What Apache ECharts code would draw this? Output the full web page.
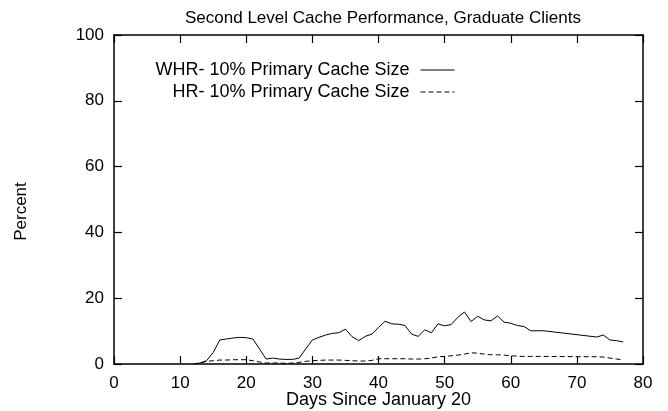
<!DOCTYPE html>
<html>
<head>
<meta charset="utf-8">
<script src="https://cdn.jsdelivr.net/npm/echarts@6/dist/echarts.min.js"></script>
<style>
  html, body { margin: 0; padding: 0; background: #fff; }
  #chart { width: 668px; height: 411px; }
</style>
</head>
<body>
<div id="chart"></div>
<script>
  // values (days since Jan 20 -> percent)
  const whrDays = [12, 13, 14, 15, 16, 17, 18, 19, 20, 21, 22, 23, 24, 25, 26, 27, 28, 29, 30, 31, 32, 33, 34, 35, 36, 37, 38, 39, 40, 41, 42, 43, 44, 45, 46, 47, 48, 49, 50, 51, 52, 53, 54, 55, 56, 57, 58, 59, 60, 61, 62, 63, 65, 73, 74, 75, 76, 77]
  const whrValues = [0, 0.3, 1.0, 3.5, 7.3, 7.6, 7.9, 8.1, 8.0, 7.6, 4.6, 1.5, 1.8, 1.5, 1.4, 1.4, 1.8, 4.6, 7.3, 8.1, 8.8, 9.3, 9.5, 10.6, 8.3, 7.1, 8.4, 9.1, 11.1, 13.0, 12.2, 12.1, 11.7, 9.1, 8.4, 10.4, 9.5, 12.2, 11.6, 12.0, 14.2, 15.8, 12.9, 14.5, 13.4, 13.1, 14.6, 12.7, 12.4, 11.7, 11.4, 10.1, 10.1, 8.2, 8.8, 7.3, 7.1, 6.7]
  const hrDays = [12, 13, 14, 15, 16, 17, 18, 19, 20, 21, 22, 23, 24, 25, 26, 27, 28, 29, 30, 31, 32, 33, 34, 35, 36, 37, 38, 39, 40, 41, 42, 43, 44, 45, 46, 47, 48, 49, 50, 51, 52, 53, 54, 55, 56, 57, 58, 59, 60, 61, 62, 63, 65, 73, 74, 75, 76, 77]
  const hrValues = [0, 0.3, 0.8, 1.0, 1.2, 1.2, 1.3, 1.3, 1.3, 1.0, 0.6, 0.3, 0.3, 0.3, 0.2, 0.3, 0.5, 0.8, 1.0, 1.1, 1.2, 1.2, 1.2, 1.1, 1.0, 0.9, 0.9, 1.1, 1.6, 1.6, 1.6, 1.6, 1.6, 1.5, 1.5, 1.6, 1.8, 2.2, 2.3, 2.5, 2.7, 3.0, 3.4, 3.3, 3.0, 2.8, 2.8, 2.7, 2.5, 2.4, 2.3, 2.3, 2.3, 2.2, 2.1, 1.8, 1.5, 1.3]
  const whrName = 'WHR- 10% Primary Cache Size'
  const hrName = 'HR- 10% Primary Cache Size'

  const font = 'Liberation Sans, Arial, Helvetica, sans-serif'
  const pairs = (xs, ys) => xs.map((x, i) => [x, ys[i]])

  const chart = echarts.init(document.getElementById('chart'))

  const frame = {
    show: true,
    onZero: false,
    lineStyle: { color: '#000', width: 1.5 }
  }
  const ticks = {
    show: true,
    inside: true,
    length: 8,
    lineStyle: { color: '#000', width: 1.2 }
  }

  const legendBase = {
    right: 208,
    itemWidth: 34,
    itemHeight: 10,
    itemGap: 0,
    align: 'right',
    selectedMode: false,
    itemStyle: { opacity: 0 },
    lineStyle: { width: 1 },
    textStyle: { fontFamily: font, fontSize: 18, color: '#000', padding: [0, 6, 0, 0] }
  }

  chart.setOption({
    animation: false,
    title: {
      text: 'Second Level Cache Performance, Graduate Clients',
      left: 378,
      textAlign: 'center',
      top: 5,
      textStyle: { fontFamily: font, fontSize: 17, fontWeight: 'normal', color: '#000' }
    },
    legend: [
      Object.assign({}, legendBase, { top: 56, data: [whrName] }),
      Object.assign({}, legendBase, { top: 78, data: [hrName] })
    ],
    grid: { left: 114, right: 25, top: 35, bottom: 47, outerBoundsMode: 'none', containLabel: false },
    xAxis: [{
      type: 'value',
      min: 0,
      max: 80,
      interval: 10,
      name: 'Days Since January 20',
      nameLocation: 'middle',
      nameGap: 27,
      nameMoveOverlap: false,
      nameTextStyle: { fontFamily: font, fontSize: 18, color: '#000' },
      axisLine: frame,
      axisTick: ticks,
      splitLine: { show: false },
      axisLabel: { fontFamily: font, fontSize: 17, color: '#000', margin: 11 }
    }, {
      type: 'value',
      position: 'top',
      min: 0,
      max: 80,
      interval: 10,
      axisLine: frame,
      axisTick: ticks,
      splitLine: { show: false },
      axisLabel: { show: false }
    }],
    yAxis: [{
      type: 'value',
      min: 0,
      max: 100,
      interval: 20,
      name: 'Percent',
      nameLocation: 'middle',
      nameGap: 84,
      nameMoveOverlap: false,
      nameTextStyle: { fontFamily: font, fontSize: 17, color: '#000', padding: [0, 24, 0, 0] },
      axisLine: frame,
      axisTick: ticks,
      splitLine: { show: false },
      axisLabel: { fontFamily: font, fontSize: 17, color: '#000', margin: 10 }
    }, {
      type: 'value',
      position: 'right',
      min: 0,
      max: 100,
      interval: 20,
      axisLine: frame,
      axisTick: ticks,
      splitLine: { show: false },
      axisLabel: { show: false }
    }],
    series: [{
      name: whrName,
      type: 'line',
      data: pairs(whrDays, whrValues),
      symbol: 'none',
      lineStyle: { color: '#000', width: 1 },
      itemStyle: { color: '#000' }
    }, {
      name: hrName,
      type: 'line',
      data: pairs(hrDays, hrValues),
      symbol: 'none',
      lineStyle: { color: '#000', width: 1, type: [5, 3] },
      itemStyle: { color: '#000' }
    }]
  })
</script>
</body>
</html>
